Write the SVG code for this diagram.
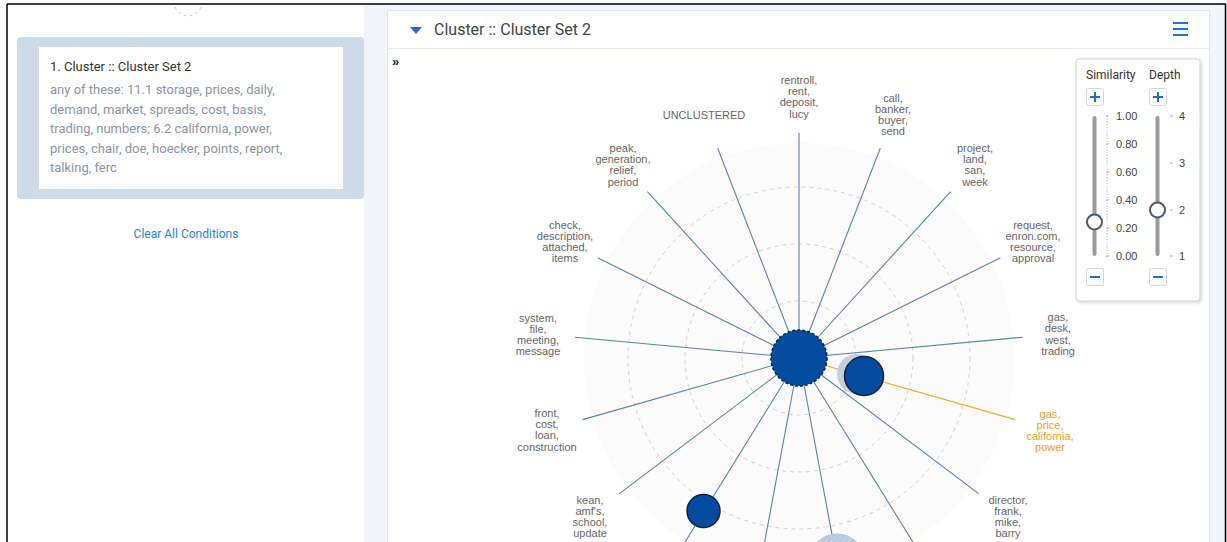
<svg xmlns="http://www.w3.org/2000/svg" width="1227" height="542" viewBox="0 0 1227 542">
<style>
.ui{font-family:Roboto,"Liberation Sans",sans-serif}
.lbl{font-family:"Liberation Sans",Arial,sans-serif;font-size:11px;fill:#666;text-anchor:middle}
.org{fill:#f29b1d}
.spoke{stroke:#5a82ad;stroke-width:1.1;fill:none}
.ring{stroke:#d2d2d2;stroke-width:1;stroke-dasharray:4 4;fill:none}
.btn{fill:#fff;stroke:#cfd6dd;stroke-width:1}
.pm{stroke:#1f6fc4;stroke-width:2}
.tick{font-family:"Liberation Sans",Arial,sans-serif;font-size:11px;fill:#444}
.node{fill:#024b9e;stroke:#0c2440;stroke-width:1.5}
</style>
<defs>
<pattern id="hatch" width="4" height="4" patternUnits="userSpaceOnUse" patternTransform="rotate(45)">
<rect width="4" height="4" fill="#bfcfe3"/>
<line x1="0" y1="0" x2="0" y2="4" stroke="#aec2da" stroke-width="1.5"/>
</pattern>
<filter id="sh" x="-10%" y="-10%" width="130%" height="130%">
<feDropShadow dx="1" dy="1" stdDeviation="1.5" flood-color="#000" flood-opacity="0.2"/>
</filter>
</defs>
<rect x="0" y="0" width="1227" height="542" fill="#fff"/>
<rect x="364" y="4" width="862" height="538" fill="#f1f5fa"/>
<rect x="387.5" y="10.5" width="822" height="540" fill="#fff" stroke="#dfe6ee"/>
<line x1="388" y1="48.5" x2="1209" y2="48.5" stroke="#e3eaf3"/>
<line x1="7" y1="4" x2="1226" y2="4" stroke="#000" stroke-width="1.5"/>
<line x1="7" y1="4" x2="7" y2="542" stroke="#000" stroke-width="1.5"/>
<line x1="1225.5" y1="4" x2="1225.5" y2="542" stroke="#000" stroke-width="1.5"/>
<path d="M175 7 A14 14 0 0 0 201 7" fill="none" stroke="#c8c8c8" stroke-dasharray="3 3"/>
<g id="condition">
<rect x="17" y="37" width="347" height="162" rx="4" fill="#cedbe8"/>
<rect x="39" y="47" width="304" height="142" fill="#fff"/>
<text class="ui" x="50" y="71" font-size="13" fill="#333">1. Cluster :: Cluster Set 2</text>
<g class="ui" font-size="13" fill="#8c94a3">
<text x="50" y="94">any of these: 11.1 storage, prices, daily,</text>
<text x="50" y="114">demand, market, spreads, cost, basis,</text>
<text x="50" y="133">trading, numbers; 6.2 california, power,</text>
<text x="50" y="153">prices, chair, doe, hoecker, points, report,</text>
<text x="50" y="172">talking, ferc</text>
</g>
</g>
<text class="ui" x="186" y="238" font-size="12" fill="#1d84e0" text-anchor="middle">Clear All Conditions</text>
<path d="M410 27 L422 27 L416 34 Z" fill="#2f6db5"/>
<text class="ui" x="434" y="35" font-size="16" fill="#444">Cluster :: Cluster Set 2</text>
<g stroke="#1a78d6" stroke-width="2">
<line x1="1173" y1="23" x2="1188" y2="23"/>
<line x1="1173" y1="29" x2="1188" y2="29"/>
<line x1="1173" y1="35" x2="1188" y2="35"/>
</g>
<text x="392" y="66" font-family="'Liberation Sans',sans-serif" font-size="13" font-weight="bold" fill="#222">»</text>
<circle cx="799" cy="358" r="215" fill="#fbfbfb"/>
<circle class="ring" cx="799" cy="358" r="57"/>
<circle class="ring" cx="799" cy="358" r="114"/>
<circle class="ring" cx="799" cy="358" r="171"/>
<g id="connectors">
<line class="spoke" x1="799" y1="358" x2="799" y2="133"/>
<line class="spoke" x1="799" y1="358" x2="880.3" y2="148.2"/>
<line class="spoke" x1="799" y1="358" x2="950.6" y2="191.7"/>
<line class="spoke" x1="799" y1="358" x2="1000.4" y2="257.7"/>
<line class="spoke" x1="799" y1="358" x2="1023" y2="337.2"/>
<line x1="799" y1="358" x2="1015.4" y2="419.6" stroke="#f5a623" stroke-width="1.2"/>
<line class="spoke" x1="799" y1="358" x2="978.6" y2="493.6"/>
<line class="spoke" x1="799" y1="358" x2="917.4" y2="549.3"/>
<line class="spoke" x1="799" y1="358" x2="840.3" y2="579.2"/>
<line class="spoke" x1="799" y1="358" x2="757.7" y2="579.2"/>
<line class="spoke" x1="799" y1="358" x2="680.6" y2="549.3"/>
<line class="spoke" x1="799" y1="358" x2="619.4" y2="493.6"/>
<line class="spoke" x1="799" y1="358" x2="582.6" y2="419.6"/>
<line class="spoke" x1="799" y1="358" x2="575" y2="337.2"/>
<line class="spoke" x1="799" y1="358" x2="597.6" y2="257.7"/>
<line class="spoke" x1="799" y1="358" x2="647.4" y2="191.7"/>
<line class="spoke" x1="799" y1="358" x2="717.7" y2="148.2"/>
</g>
<g id="node-root"><circle cx="799" cy="358" r="28" fill="#024b9e" stroke="#0c2440" stroke-width="1.5" stroke-dasharray="3 2"/></g>
<g id="node-gas-price">
<circle cx="857" cy="374" r="20" fill="#c3cfdc"/>
<circle class="node" cx="864" cy="376" r="19.5"/>
</g>
<g id="node-sub"><circle class="node" cx="703.5" cy="511" r="16.5"/></g>
<g id="node-light"><circle cx="837" cy="562" r="28" fill="url(#hatch)" stroke="#b3c4d8"/></g>
<g id="labels">
<text class="lbl" x="704" y="119">UNCLUSTERED</text>
<text class="lbl"><tspan x="799" y="84">rentroll,</tspan><tspan x="799" y="95">rent,</tspan><tspan x="799" y="106">deposit,</tspan><tspan x="799" y="118">lucy</tspan></text>
<text class="lbl"><tspan x="893" y="102">call,</tspan><tspan x="893" y="113">banker,</tspan><tspan x="893" y="124">buyer,</tspan><tspan x="893" y="135">send</tspan></text>
<text class="lbl"><tspan x="975" y="152">project,</tspan><tspan x="975" y="163">land,</tspan><tspan x="975" y="174">san,</tspan><tspan x="975" y="186">week</tspan></text>
<text class="lbl"><tspan x="1033" y="229">request,</tspan><tspan x="1033" y="240">enron.com,</tspan><tspan x="1033" y="251">resource,</tspan><tspan x="1033" y="262">approval</tspan></text>
<text class="lbl"><tspan x="1058" y="321">gas,</tspan><tspan x="1058" y="332">desk,</tspan><tspan x="1058" y="344">west,</tspan><tspan x="1058" y="355">trading</tspan></text>
<text class="lbl org"><tspan x="1050" y="418">gas,</tspan><tspan x="1050" y="429">price,</tspan><tspan x="1050" y="440">california,</tspan><tspan x="1050" y="451">power</tspan></text>
<text class="lbl"><tspan x="1008" y="504">director,</tspan><tspan x="1008" y="515">frank,</tspan><tspan x="1008" y="526">mike,</tspan><tspan x="1008" y="537">barry</tspan></text>
<text class="lbl"><tspan x="590" y="504">kean,</tspan><tspan x="590" y="515">amf's,</tspan><tspan x="590" y="526">school,</tspan><tspan x="590" y="537">update</tspan></text>
<text class="lbl"><tspan x="547" y="417">front,</tspan><tspan x="547" y="428">cost,</tspan><tspan x="547" y="439">loan,</tspan><tspan x="547" y="451">construction</tspan></text>
<text class="lbl"><tspan x="538" y="322">system,</tspan><tspan x="538" y="333">file,</tspan><tspan x="538" y="344">meeting,</tspan><tspan x="538" y="355">message</tspan></text>
<text class="lbl"><tspan x="565" y="229">check,</tspan><tspan x="565" y="240">description,</tspan><tspan x="565" y="251">attached,</tspan><tspan x="565" y="262">items</tspan></text>
<text class="lbl"><tspan x="623" y="152">peak,</tspan><tspan x="623" y="163">generation,</tspan><tspan x="623" y="174">relief,</tspan><tspan x="623" y="186">period</tspan></text>
</g>
<g id="controls">
<rect x="1076" y="59" width="124" height="242" rx="3" fill="#fff" stroke="#cdd3da" filter="url(#sh)"/>
<text class="ui" x="1086" y="79" font-size="12" fill="#333">Similarity</text>
<text class="ui" x="1149" y="79" font-size="12" fill="#333">Depth</text>
<rect class="btn" x="1086.5" y="88.5" width="17" height="17" rx="2"/>
<line class="pm" x1="1090" y1="97" x2="1100" y2="97"/><line class="pm" x1="1095" y1="92" x2="1095" y2="102"/>
<rect class="btn" x="1149.5" y="88.5" width="17" height="17" rx="2"/>
<line class="pm" x1="1153" y1="97" x2="1163" y2="97"/><line class="pm" x1="1158" y1="92" x2="1158" y2="102"/>
<rect class="btn" x="1086.5" y="268.5" width="17" height="17" rx="2"/>
<line class="pm" x1="1090" y1="277" x2="1100" y2="277"/>
<rect class="btn" x="1149.5" y="268.5" width="17" height="17" rx="2"/>
<line class="pm" x1="1153" y1="277" x2="1163" y2="277"/>
<line x1="1094.5" y1="118" x2="1094.5" y2="254" stroke="#9a9a9a" stroke-width="4" stroke-linecap="round"/>
<line x1="1157.5" y1="118" x2="1157.5" y2="254" stroke="#9a9a9a" stroke-width="4" stroke-linecap="round"/>
<line x1="1107" y1="116" x2="1107" y2="257" stroke="#bbb" stroke-width="2" stroke-dasharray="0.6 2.2"/>
<g stroke="#aaa"><line x1="1106" y1="116" x2="1109" y2="116"/><line x1="1106" y1="144" x2="1109" y2="144"/><line x1="1106" y1="172" x2="1109" y2="172"/><line x1="1106" y1="200" x2="1109" y2="200"/><line x1="1106" y1="228" x2="1109" y2="228"/><line x1="1106" y1="256" x2="1109" y2="256"/>
<line x1="1170" y1="116" x2="1173" y2="116"/><line x1="1170" y1="163" x2="1173" y2="163"/><line x1="1170" y1="210" x2="1173" y2="210"/><line x1="1170" y1="256" x2="1173" y2="256"/></g>
<text class="tick" x="1116" y="120">1.00</text>
<text class="tick" x="1116" y="148">0.80</text>
<text class="tick" x="1116" y="176">0.60</text>
<text class="tick" x="1116" y="204">0.40</text>
<text class="tick" x="1116" y="232">0.20</text>
<text class="tick" x="1116" y="260">0.00</text>
<text class="tick" x="1179" y="120">4</text>
<text class="tick" x="1179" y="167">3</text>
<text class="tick" x="1179" y="214">2</text>
<text class="tick" x="1179" y="260">1</text>
<circle cx="1094.5" cy="222" r="7.5" fill="#fff" stroke="#4d5b6b" stroke-width="2"/>
<circle cx="1157.5" cy="210" r="7.5" fill="#fff" stroke="#4d5b6b" stroke-width="2"/>
</g>
</svg>
